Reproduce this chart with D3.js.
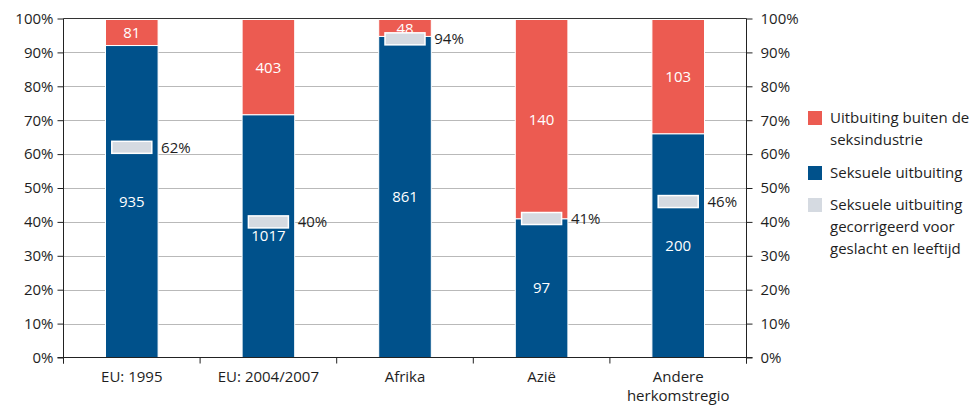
<!DOCTYPE html>
<html>
<head>
<meta charset="utf-8">
<script src="https://cdn.jsdelivr.net/npm/d3@7"></script>
<style>
  html, body { margin: 0; padding: 0; background: #fff; }
  svg { display: block; font-family: "Open Sans", "Noto Sans", sans-serif; }
</style>
</head>
<body>
<svg id="chart" width="972" height="405"></svg>
<script>
const categories = [["EU: 1995"], ["EU: 2004/2007"], ["Afrika"], ["Azië"], ["Andere", "herkomstregio"]];
const sexualValues = [935, 1017, 861, 97, 200];
const otherValues = [81, 403, 48, 140, 103];
const correctedPct = [0.62, 0.40, 0.94, 0.41, 0.46];
const correctedLabels = ["62%", "40%", "94%", "41%", "46%"];
const yTicks = [0, 0.1, 0.2, 0.3, 0.4, 0.5, 0.6, 0.7, 0.8, 0.9, 1.0];
const legendItems = [
  { lines: ["Uitbuiting buiten de", "seksindustrie"], key: "other" },
  { lines: ["Seksuele uitbuiting"], key: "sexual" },
  { lines: ["Seksuele uitbuiting", "gecorrigeerd voor", "geslacht en leeftijd"], key: "corrected" }
];

const colors = { other: "#ec5b51", sexual: "#00518b", corrected: "#d5dae1" };
const textColor = "#1e1e1e";
const fs = 15;

const svg = d3.select("#chart");
const pL = 63.5, pR = 746.5, pT = 18.5, pB = 357.5;

const x = d3.scaleBand().domain(d3.range(categories.length)).range([pL, pR]).paddingInner(0.615).paddingOuter(0.3075);
const y = d3.scaleLinear().domain([0, 1]).range([pB, pT]);

svg.append("g").selectAll("line").data(yTicks.filter(t => t > 0 && t < 1)).join("line")
  .attr("x1", pL).attr("x2", pR)
  .attr("y1", d => Math.round(y(d)) + 0.5).attr("y2", d => Math.round(y(d)) + 0.5)
  .attr("stroke", "#b9b9b9").attr("stroke-width", 1);
svg.append("line").attr("x1", pL).attr("x2", pR).attr("y1", y(1)).attr("y2", y(1))
  .attr("stroke", "#333").attr("stroke-width", 1);

const data = categories.map((c, i) => {
  const total = sexualValues[i] + otherValues[i];
  return { i, sexual: sexualValues[i], other: otherValues[i], ps: sexualValues[i] / total, corr: correctedPct[i], corrLabel: correctedLabels[i] };
});

const bars = svg.append("g");
bars.selectAll("rect.sexual").data(data).join("rect").attr("class", "sexual")
  .attr("x", d => x(d.i)).attr("width", x.bandwidth())
  .attr("y", d => y(d.ps)).attr("height", d => y(0) - y(d.ps))
  .attr("fill", colors.sexual).attr("stroke", "#fff").attr("stroke-width", 1);
bars.selectAll("rect.other").data(data).join("rect").attr("class", "other")
  .attr("x", d => x(d.i)).attr("width", x.bandwidth())
  .attr("y", d => y(1) + 1).attr("height", d => y(d.ps) - y(1) - 1)
  .attr("fill", colors.other).attr("stroke", "#fff").attr("stroke-width", 1);

bars.selectAll("text.sl").data(data).join("text").attr("class", "sl")
  .attr("x", d => x(d.i) + x.bandwidth() / 2)
  .attr("y", d => (y(d.ps) + y(0)) / 2)
  .attr("dy", "0.35em").attr("text-anchor", "middle")
  .attr("fill", "#fff").attr("font-size", fs).text(d => d.sexual);
bars.selectAll("text.ol").data(data).join("text").attr("class", "ol")
  .attr("x", d => x(d.i) + x.bandwidth() / 2)
  .attr("y", d => (y(d.ps) + y(1)) / 2 + 1)
  .attr("dy", "0.35em").attr("text-anchor", "middle")
  .attr("fill", "#fff").attr("font-size", fs).text(d => d.other);

const mw = 40, mh = 12;
bars.selectAll("rect.corr").data(data).join("rect").attr("class", "corr")
  .attr("x", d => x(d.i) + x.bandwidth() / 2 - mw / 2).attr("width", mw)
  .attr("y", d => y(d.corr) - mh / 2).attr("height", mh)
  .attr("fill", colors.corrected).attr("stroke", "#fff").attr("stroke-width", 1.5);
bars.selectAll("text.cl").data(data).join("text").attr("class", "cl")
  .attr("x", d => x(d.i) + x.bandwidth() + 3)
  .attr("y", d => y(d.corr))
  .attr("dy", "0.35em").attr("fill", textColor).attr("font-size", fs).text(d => d.corrLabel);

const yAxisL = d3.axisLeft(y).tickValues(yTicks).tickFormat(d3.format(".0%")).tickSize(6).tickPadding(4);
const gL = svg.append("g").attr("transform", `translate(${pL},0)`).call(yAxisL);
const yAxisR = d3.axisRight(y).tickValues(yTicks).tickFormat(d3.format(".0%")).tickSize(6).tickPadding(8);
const gR = svg.append("g").attr("transform", `translate(${pR},0)`).call(yAxisR);
[gL, gR].forEach(g => {
  g.select(".domain").remove();
  g.selectAll(".tick line").attr("stroke", "#222");
  g.selectAll(".tick text").attr("font-size", fs).attr("fill", textColor).attr("font-family", "Open Sans, sans-serif");
});
svg.append("line").attr("x1", pL).attr("x2", pL).attr("y1", pT).attr("y2", pB + 6).attr("stroke", "#222");
svg.append("line").attr("x1", pR).attr("x2", pR).attr("y1", pT).attr("y2", pB + 6).attr("stroke", "#222");

svg.append("line").attr("x1", pL - 6).attr("x2", pR + 6).attr("y1", pB).attr("y2", pB).attr("stroke", "#222");
const boundaries = d3.range(categories.length + 1).map(i => pL + i * x.step());
svg.append("g").selectAll("line").data(boundaries).join("line")
  .attr("x1", d => d).attr("x2", d => d).attr("y1", pB).attr("y2", pB + 6).attr("stroke", "#222");
const catG = svg.append("g");
categories.forEach((lines, i) => {
  const t = catG.append("text").attr("x", x(i) + x.bandwidth() / 2).attr("y", pB + 24)
    .attr("text-anchor", "middle").attr("fill", textColor).attr("font-size", fs);
  lines.forEach((l, j) => t.append("tspan").attr("x", x(i) + x.bandwidth() / 2).attr("dy", j === 0 ? 0 : 19).text(l));
});

const lg = svg.append("g");
const legendTops = [118, 173, 205];
legendItems.forEach((item, k) => {
  const cy = legendTops[k];
  lg.append("rect").attr("x", 808).attr("y", cy - 7).attr("width", 14).attr("height", 14).attr("fill", colors[item.key]);
  const t = lg.append("text").attr("x", 830).attr("y", cy).attr("fill", textColor).attr("font-size", fs);
  item.lines.forEach((l, j) => t.append("tspan").attr("x", 830).attr("dy", j === 0 ? "0.35em" : 22).text(l));
});
</script>
</body>
</html>
